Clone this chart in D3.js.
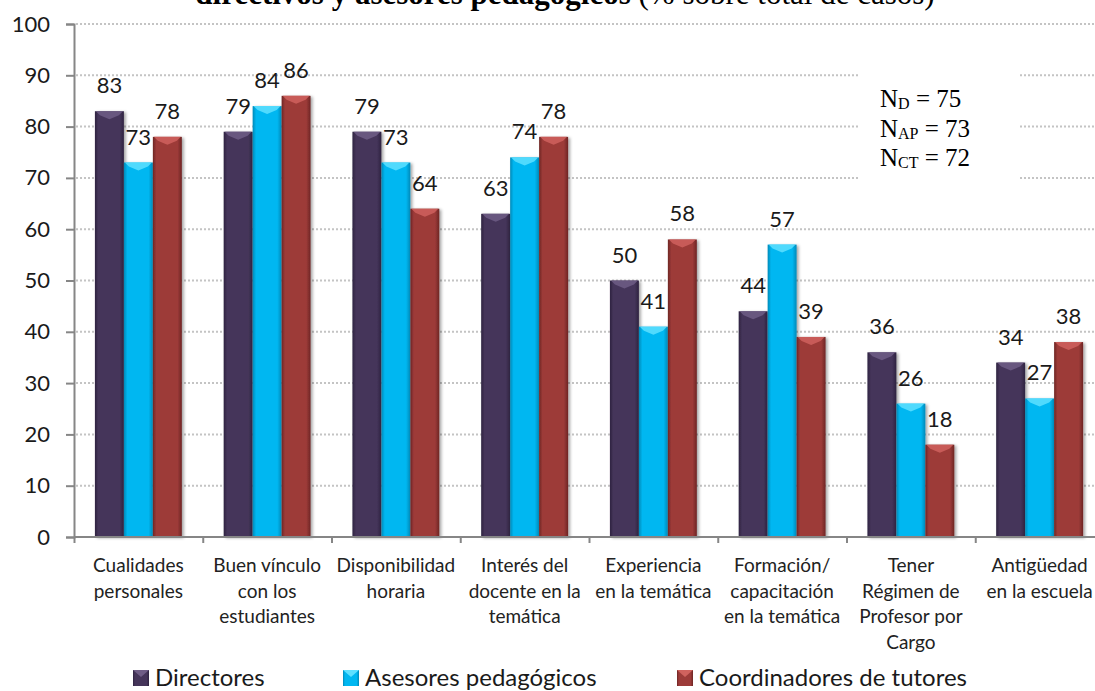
<!DOCTYPE html>
<html>
<head>
<meta charset="utf-8">
<script src="https://cdn.jsdelivr.net/npm/d3@7"></script>
<style>
	html, body { margin: 0; padding: 0; background: #fff; }
	svg { display: block; }
</style>
</head>
<body>
<div id="area"></div>
<script>

/**
* CHART DATA
* ==========
*/
var categories = [
	["Cualidades", "personales"],
	["Buen vínculo", "con los", "estudiantes"],
	["Disponibilidad", "horaria"],
	["Interés del", "docente en la", "temática"],
	["Experiencia", "en la temática"],
	["Formación/", "capacitación", "en la temática"],
	["Tener", "Régimen de", "Profesor por", "Cargo"],
	["Antigüedad", "en la escuela"]
];
var seriesNames = ["Directores", "Asesores pedagógicos", "Coordinadores de tutores"];
var directores = [83, 79, 79, 63, 50, 44, 36, 34];
var asesores = [73, 84, 73, 74, 41, 57, 26, 27];
var coordinadores = [78, 86, 64, 78, 58, 39, 18, 38];
var yTicks = [0, 10, 20, 30, 40, 50, 60, 70, 80, 90, 100];
var nLines = [["D", "75"], ["AP", "73"], ["CT", "72"]];
var titleBold = "directivos y asesores pedagógicos";
var titleRest = " (% sobre total de casos)";

var seriesValues = [directores, asesores, coordinadores];

//base colour, light bevel colour, dark edge colour
var palette = [
	{ base: "#45355a", light: "#6f5d86", dark: "#2e2340" },
	{ base: "#00b7f1", light: "#5ee0ff", dark: "#0089b8" },
	{ base: "#9d3b39", light: "#d0625e", dark: "#6e2524" }
];

var width = 1095;
var height = 691;
var font = "Lato, 'Open Sans', sans-serif";

var svg = d3.select("#area").append("svg")
	.attr("width", width)
	.attr("height", height);

var defs = svg.append("defs");

//Horizontal shading so each bar looks rounded
palette.forEach(function(c, i){
	var g = defs.append("linearGradient")
		.attr("id", "grad" + i)
		.attr("x1", "0%").attr("x2", "100%").attr("y1", "0%").attr("y2", "0%");
	g.append("stop").attr("offset", "0%").attr("stop-color", c.dark);
	g.append("stop").attr("offset", "12%").attr("stop-color", c.base);
	g.append("stop").attr("offset", "85%").attr("stop-color", c.base);
	g.append("stop").attr("offset", "100%").attr("stop-color", c.dark);
});

var shadow = defs.append("filter").attr("id", "shadow")
	.attr("x", "-20%").attr("y", "-5%").attr("width", "150%").attr("height", "115%");
shadow.append("feDropShadow")
	.attr("dx", 2).attr("dy", 1).attr("stdDeviation", 1.5)
	.attr("flood-color", "#000").attr("flood-opacity", 0.35);

/**
* SCALES
* ======
*/
var plotLeft = 74;
var plotRight = 1104;

var y = d3.scaleLinear().domain([0, 100]).range([537, 24]);

var x0 = d3.scaleBand()
	.domain(d3.range(categories.length))
	.range([plotLeft, plotRight])
	.paddingInner(0.325)
	.paddingOuter(0.1625);

var x1 = d3.scaleBand()
	.domain(d3.range(seriesNames.length))
	.range([0, x0.bandwidth()]);

//boundaries between categories, used for the x axis ticks
var xb = d3.scaleLinear().domain([0, categories.length]).range([plotLeft, plotRight]);

/**
* TITLE (cut off at the top, as in the source)
* ============================================
*/
var title = svg.append("text")
	.attr("x", 565)
	.attr("y", 4)
	.attr("text-anchor", "middle")
	.style("font-family", "'Liberation Serif', 'Times New Roman', serif")
	.style("font-size", "31px")
	.style("fill", "#000");
title.append("tspan").style("font-weight", "bold").text(titleBold);
title.append("tspan").text(titleRest);

/**
* GRIDLINES
* =========
*/
svg.append("g")
	.selectAll("line")
	.data(yTicks.filter(function(d){ return d > 0; }))
	.join("line")
	.attr("x1", plotLeft + 2)
	.attr("x2", width)
	.attr("y1", function(d){ return y(d); })
	.attr("y2", function(d){ return y(d); })
	.attr("stroke", "#c4c4c4")
	.attr("stroke-width", 2)
	.attr("stroke-dasharray", "2,2");

/**
* N BOX
* =====
*/
svg.append("rect")
	.attr("x", 860).attr("y", 66)
	.attr("width", 158).attr("height", 120)
	.attr("fill", "#fff");

var nText = svg.append("g")
	.style("font-family", "'Liberation Serif', 'Times New Roman', serif")
	.style("fill", "#000");

nLines.forEach(function(d, i){
	var t = nText.append("text")
		.attr("x", 880)
		.attr("y", 107 + i * 29.5)
		.style("font-size", "25px");
	t.append("tspan").text("N");
	t.append("tspan").attr("dy", 2).style("font-size", "16px").text(d[0]);
	t.append("tspan").attr("dy", -2).text(" = " + d[1]);
});

/**
* BARS
* ====
*/
var groups = svg.append("g")
	.selectAll("g")
	.data(categories.map(function(c, i){ return i; }))
	.join("g")
	.attr("transform", function(i){ return "translate(" + x0(i) + ",0)"; });

var bars = groups.selectAll("g.bar")
	.data(function(i){
		return seriesValues.map(function(vals, s){ return { s: s, v: vals[i] }; });
	})
	.join("g")
	.attr("class", "bar");

bars.append("rect")
	.attr("x", function(d){ return x1(d.s); })
	.attr("y", function(d){ return y(d.v); })
	.attr("width", x1.bandwidth())
	.attr("height", function(d){ return y(0) - y(d.v); })
	.attr("fill", function(d){ return "url(#grad" + d.s + ")"; })
	.attr("filter", "url(#shadow)");

//lighter bevel on top of the bar
bars.append("polygon")
	.attr("points", function(d){
		var bx = x1(d.s), by = y(d.v), w = x1.bandwidth();
		return [[bx + 1, by], [bx + w - 1, by], [bx + w - 5, by + 4], [bx + w / 2, by + 8], [bx + 5, by + 4]].join(" ");
	})
	.attr("fill", function(d){ return palette[d.s].light; })
	.attr("opacity", 0.85);

//data labels
bars.append("text")
	.attr("x", function(d){ return x1(d.s) + x1.bandwidth() / 2; })
	.attr("y", function(d){ return y(d.v) - 18; })
	.attr("text-anchor", "middle")
	.style("font-family", font)
	.style("font-size", "22px")
	.style("fill", "#1a1a1a")
	.text(function(d){ return d3.format(".0f")(d.v); });

/**
* AXES
* ====
*/
var yAxis = svg.append("g")
	.attr("transform", "translate(" + plotLeft + ",0)")
	.call(d3.axisLeft(y).tickValues(yTicks).tickSize(8).tickPadding(16));

var xAxis = svg.append("g")
	.attr("transform", "translate(0," + y(0) + ")")
	.call(d3.axisBottom(xb).ticks(categories.length).tickSize(6).tickFormat(""));

[yAxis, xAxis].forEach(function(ax){
	ax.selectAll("path, line").attr("stroke", "#868686").attr("stroke-width", 2);
});
xAxis.select(".domain").attr("d", "M" + plotLeft + ",0H" + width);

yAxis.selectAll("text")
	.style("font-family", font)
	.style("font-size", "22px")
	.style("fill", "#1a1a1a");

//category labels (multi-line)
var catLabels = svg.append("g")
	.selectAll("text")
	.data(categories)
	.join("text")
	.attr("text-anchor", "middle")
	.attr("x", function(d, i){ return x0(i) + x0.bandwidth() / 2; })
	.attr("y", 572)
	.style("font-family", font)
	.style("font-size", "19px")
	.style("fill", "#222");

catLabels.selectAll("tspan")
	.data(function(d){ return d; })
	.join("tspan")
	.attr("x", function(){ return this.parentNode.getAttribute("x"); })
	.attr("dy", function(d, i){ return i === 0 ? 0 : 25.5; })
	.text(function(d){ return d; });

/**
* LEGEND
* ======
*/
var legendX = [133, 343, 677];

var legend = svg.append("g")
	.selectAll("g")
	.data(seriesNames)
	.join("g")
	.attr("transform", function(d, i){ return "translate(" + legendX[i] + ",670)"; });

legend.append("rect")
	.attr("width", 16).attr("height", 16)
	.attr("fill", function(d, i){ return "url(#grad" + i + ")"; });

legend.append("polygon")
	.attr("points", "0,0 16,0 8,7")
	.attr("fill", function(d, i){ return palette[i].light; });

legend.append("text")
	.attr("x", 22)
	.attr("y", 16)
	.style("font-family", font)
	.style("font-size", "24px")
	.style("fill", "#1a1a1a")
	.text(function(d){ return d; });

</script>
</body>
</html>
